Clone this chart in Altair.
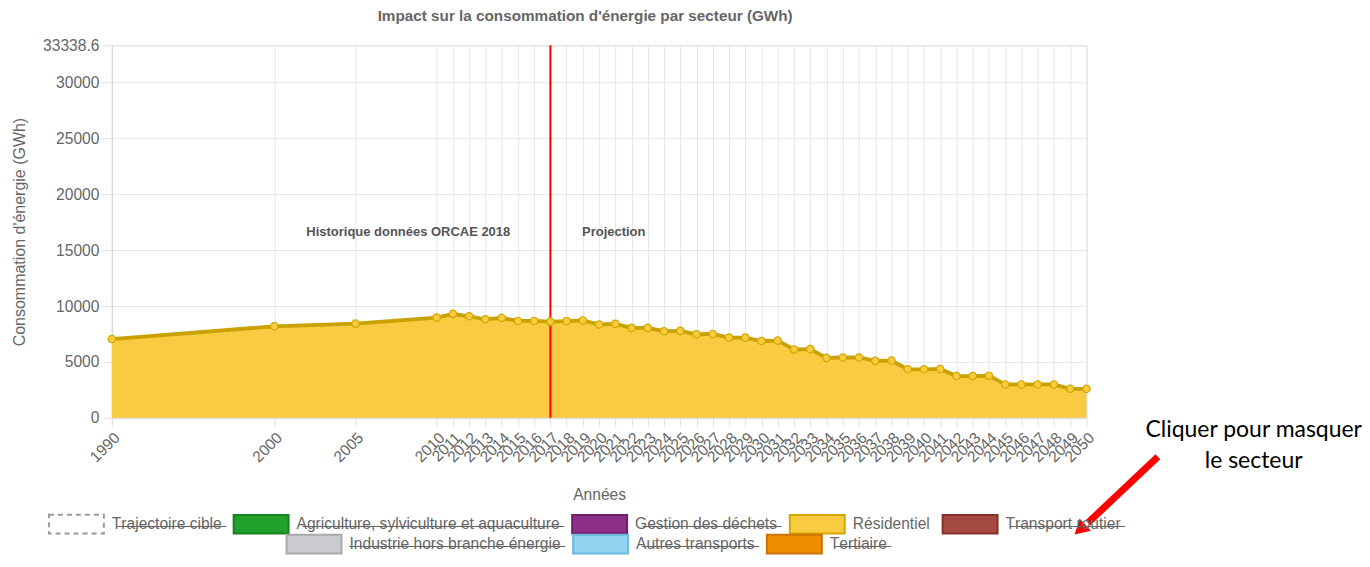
import altair as alt
import pandas as pd

# ---------------- data ----------------
years = [1990, 2000, 2005, 2010, 2011, 2012, 2013, 2014, 2015, 2016, 2017,
         2018, 2019, 2020, 2021, 2022, 2023, 2024, 2025, 2026, 2027, 2028,
         2029, 2030, 2031, 2032, 2033, 2034, 2035, 2036, 2037, 2038, 2039,
         2040, 2041, 2042, 2043, 2044, 2045, 2046, 2047, 2048, 2049, 2050]
residentiel = [7050, 8190, 8430, 8970, 9300, 9090, 8820, 8940, 8670, 8670, 8610,
               8660, 8713, 8352, 8412, 8050, 8050, 7749, 7779, 7477, 7507, 7176,
               7176, 6874, 6904, 6120, 6151, 5367, 5397, 5397, 5096, 5126, 4342,
               4342, 4372, 3739, 3739, 3769, 2985, 2985, 2985, 2985, 2593, 2593]

y_ticks = [0, 5000, 10000, 15000, 20000, 25000, 30000, 33338.6]
y_max = 33338.6
split_year = [2017]

note_texts = ["Historique données ORCAE 2018", "Projection"]
note_x = [2008.25, 2020.9]
note_y = [16620, 16620]

legend_target = ["Trajectoire cible"]
fill_target = ["#ffffff"]
stroke_target = ["#9a9a9a"]
legend_row1 = ["Agriculture, sylviculture et aquaculture",
               "Gestion des déchets", "Résidentiel", "Transport routier"]
fill_row1 = ["#21a02c", "#8e2f87", "#f8cb40", "#a44a43"]
stroke_row1 = ["#17821f", "#701f69", "#d4a800", "#86302a"]
legend_row2 = ["Industrie hors branche énergie", "Autres transports", "Tertiaire"]
fill_row2 = ["#cbcbcf", "#93d3f0", "#ef8f00"]
stroke_row2 = ["#a9a9ad", "#6cb8de", "#c97500"]
visible_sector = "Résidentiel"

callout_lines = ["Cliquer pour masquer", "le secteur"]
callout_x = [2060.3, 2060.3]
callout_y = [-1070, -3840]
arrow_x, arrow_y, arrow_x2, arrow_y2 = [2054.4], [-3490], [2050.1], [-9390]
head_x, head_y = [2049.6], [-10000]

# ---------------- tables ----------------
df = pd.DataFrame({"year": years, "value": residentiel})
df_split = pd.DataFrame({"year": split_year})
df_notes = pd.DataFrame({"x": note_x, "y": note_y, "t": note_texts})
df_leg0 = pd.DataFrame({"cat0": legend_target})
df_leg1 = pd.DataFrame({"cat1": legend_row1})
df_leg2 = pd.DataFrame({"cat2": legend_row2})
df_call = pd.DataFrame({"x": callout_x, "y": callout_y, "t": callout_lines})
df_arrow = pd.DataFrame({"x": arrow_x, "y": arrow_y, "x2": arrow_x2, "y2": arrow_y2})
df_head = pd.DataFrame({"x": head_x, "y": head_y})

FONT = "Liberation Sans"
GREY = "#666666"
FS = 15.6

xscale = alt.Scale(domain=[1990, 2050], nice=False, zero=False)
yscale = alt.Scale(domain=[0, y_max], nice=False)

x_axis = alt.Axis(values=years, format="d", labelAngle=-45, labelOverlap=False,
                  labelFontSize=FS, labelColor=GREY, labelFont=FONT,
                  tickSize=9, tickColor="#e0e0e0", gridColor="#e6e6e6",
                  domainColor="#d6d6d6", title="Années", titleFontSize=FS,
                  titleFontWeight="normal", titleColor=GREY, titleFont=FONT,
                  titlePadding=22, labelPadding=3)
y_axis = alt.Axis(values=y_ticks, labelExpr="'' + datum.value", labelOverlap=False,
                  labelFontSize=FS, labelColor=GREY, labelFont=FONT,
                  tickSize=10, tickColor="#e0e0e0", gridColor="#e6e6e6",
                  domainColor="#d6d6d6", title="Consommation d'énergie (GWh)",
                  titleFontSize=16, titleFontWeight="normal", titleColor=GREY,
                  titleFont=FONT, titlePadding=15, labelPadding=3)


def X(field):
    return alt.X(field + ":Q", scale=xscale, axis=x_axis)


def Y(field):
    return alt.Y(field + ":Q", scale=yscale, axis=y_axis)


base = alt.Chart(df).encode(x=X("year"), y=Y("value"))
area = base.mark_area(color="#f8cb40", opacity=1)
line = base.mark_line(color="#c9a200", strokeWidth=3.8)
pts = base.mark_point(filled=True, fill="#f8cb40", stroke="#d4a800",
                      strokeWidth=1.2, size=55, opacity=1)

split = alt.Chart(df_split).mark_rule(color="#ff0000", strokeWidth=2).encode(x=X("year"))

notes = alt.Chart(df_notes).mark_text(font=FONT, fontSize=13, fontWeight="bold",
                                      color="#555555").encode(
    x=X("x"), y=Y("y"), text="t:N")

strike = ("datum.label === '" + visible_sector + "' ? datum.label : "
          "replace(datum.label, regexp('(.)', 'g'), '$1\u0336')")
rect_path = "M-1,-0.34L1,-0.34L1,0.34L-1,0.34Z"


def legend_props(x, y, dash=None):
    d = dict(orient="none", legendX=x, legendY=y, direction="horizontal",
             symbolType=rect_path, symbolSize=3025, symbolStrokeWidth=2,
             symbolOpacity=1, labelFont=FONT, labelFontSize=FS,
             labelColor=GREY, labelOffset=7, columnPadding=8,
             labelLimit=400, labelExpr=strike, title=None)
    if dash:
        d["symbolDash"] = dash
    return d


def legend_layer(frame, field, domain, fills, strokes, x, y, dash=None):
    return alt.Chart(frame).mark_point(filled=True, opacity=0).encode(
        fill=alt.Fill(field + ":N", scale=alt.Scale(domain=domain, range=fills),
                      legend=alt.Legend(**legend_props(x, y, dash))),
        stroke=alt.Stroke(field + ":N", scale=alt.Scale(domain=domain, range=strokes),
                          legend=alt.Legend(**legend_props(x, y, dash))),
    )


leg0 = legend_layer(df_leg0, "cat0", legend_target, fill_target, stroke_target,
                    -64, 451, dash=[5, 4])
leg1 = legend_layer(df_leg1, "cat1", legend_row1, fill_row1, stroke_row1, 121, 451)
leg2 = legend_layer(df_leg2, "cat2", legend_row2, fill_row2, stroke_row2, 174, 471)

callout = alt.Chart(df_call).mark_text(font="Lato", fontSize=23, color="#000000").encode(
    x=X("x"), y=Y("y"), text="t:N")
arrow = alt.Chart(df_arrow).mark_rule(color="#ff0000", strokeWidth=7).encode(
    x=X("x"), y=Y("y"), x2="x2:Q", y2="y2:Q")
head = alt.Chart(df_head).mark_point(shape="triangle-up", filled=True, color="#ff0000",
                                     size=280, angle=227, opacity=1).encode(
    x=X("x"), y=Y("y"))

chart = alt.layer(area, line, split, pts, notes, leg0, leg1, leg2, arrow, head,
                  callout).resolve_scale(
    fill="independent", stroke="independent"
).resolve_legend(fill="independent", stroke="independent").properties(
    width=976, height=373,
    title=alt.TitleParams("Impact sur la consommation d'énergie par secteur (GWh)",
                          font=FONT, fontSize=15.3, fontWeight="bold", color=GREY,
                          anchor="middle", dx=-14, offset=14),
    padding={"left": 104, "top": 37, "right": 276, "bottom": 137},
    autosize=alt.AutoSizeParams(type="none"),
).configure_view(stroke="transparent").configure_axisX(labelOverlap=False).configure(
    background="#ffffff")

chart.save("out.html", embed_options={"renderer": "svg", "actions": False})
